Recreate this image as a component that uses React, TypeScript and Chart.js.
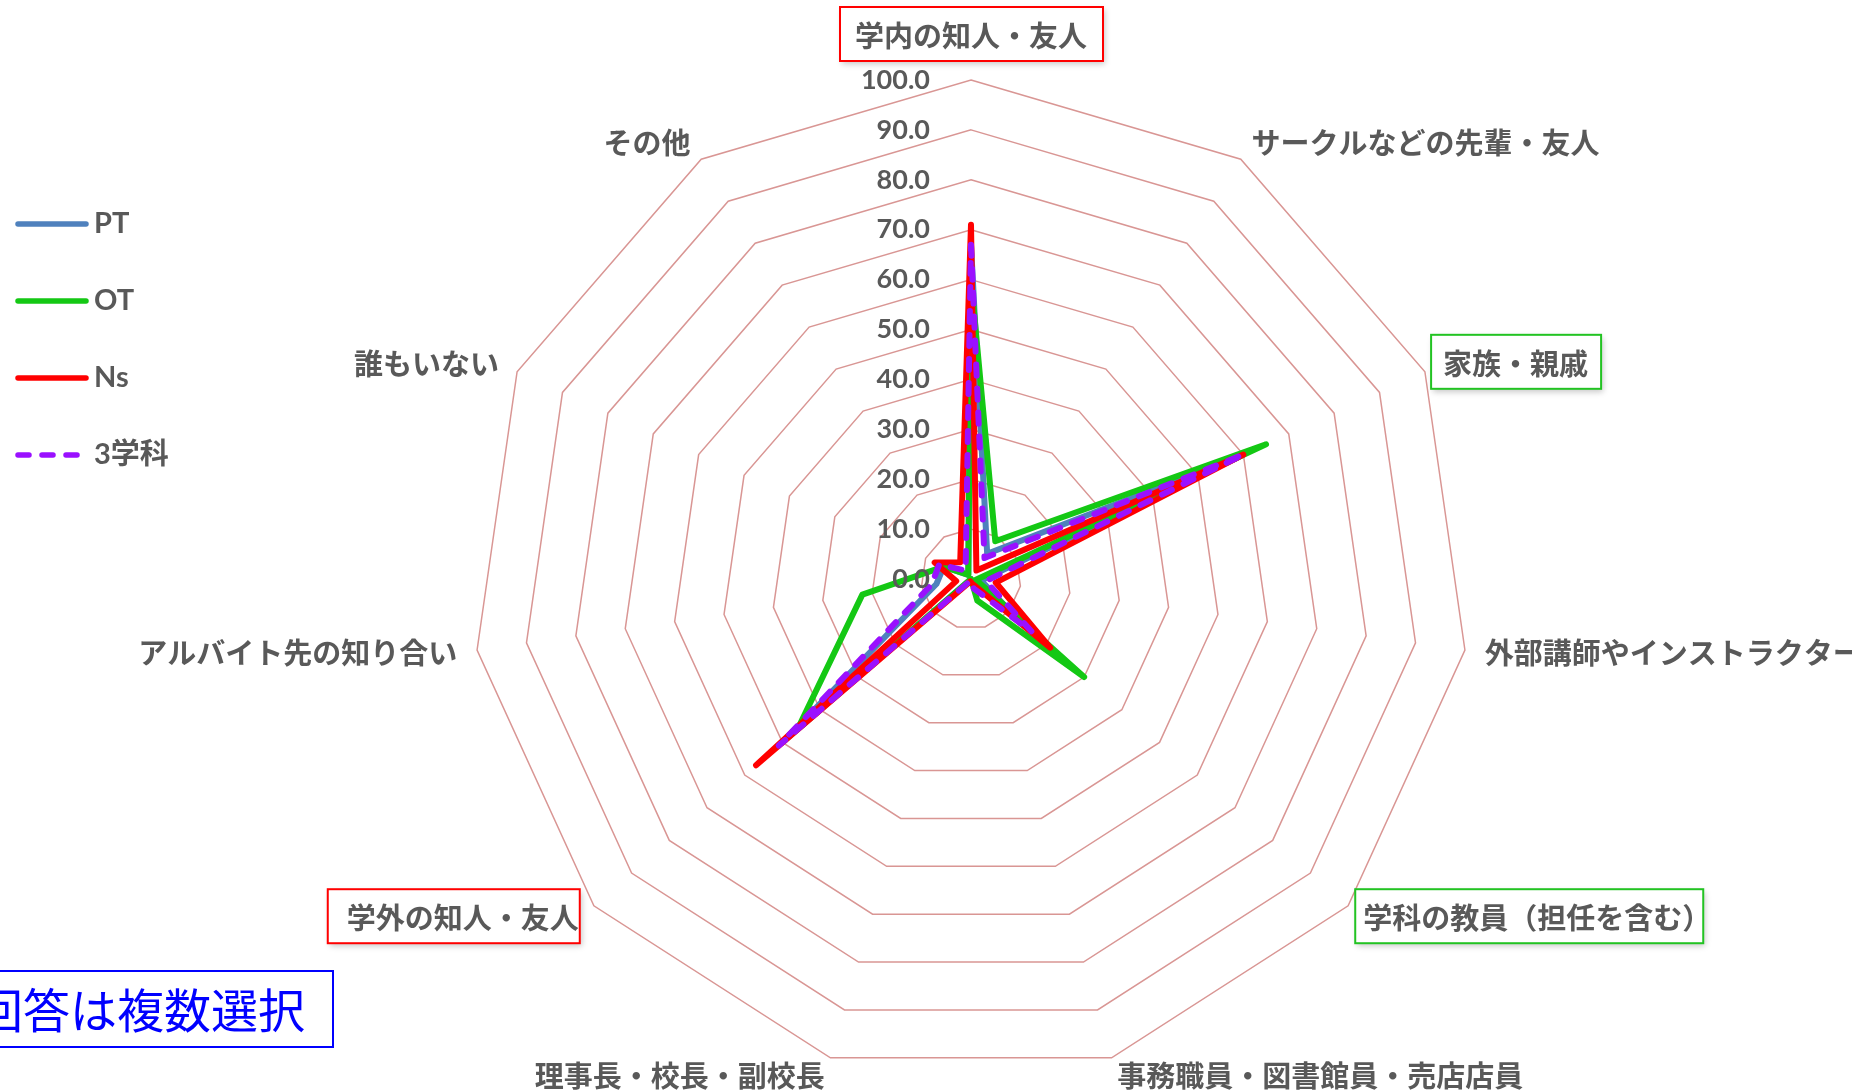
import React, { useEffect, useRef } from 'react';
import { Chart, registerables } from 'chart.js';

Chart.register(...registerables);

// ---- data ----
const CATEGORIES = [
  '学内の知人・友人',
  'サークルなどの先輩・友人',
  '家族・親戚',
  '外部講師やインストラクター',
  '学科の教員（担任を含む）',
  '事務職員・図書館員・売店店員',
  '理事長・校長・副校長',
  '学外の知人・友人',
  'アルバイト先の知り合い',
  '誰もいない',
  'その他',
];
const SERIES_NAMES = ['PT', 'OT', 'Ns', '3学科'];
const PT_VALUES = [67, 6, 59, 2, 13, 1, 0, 50, 7, 6, 1];
const OT_VALUES = [60, 9, 65, 1, 30, 4.5, 0, 46, 22, 6, 1];
const NS_VALUES = [71, 2, 60, 5, 21, 1, 0.5, 57, 3, 8, 4];
const ALL_VALUES = [67, 5, 60, 3, 16, 2, 0.3, 51, 8, 7, 2];
const AXIS_MIN = 0;
const AXIS_MAX = 100;
const AXIS_STEP = 10;
const NOTE_TEXT = '回答は複数選択';

// ---- styles ----
const COLORS = ['#4F81BD', '#14C814', '#FF0000', '#9A10FF'];
const TEXT_COLOR = '#595959';
const GRID_COLOR = '#D99694';
const JP_FONT = '"Noto Sans CJK JP", "Noto Sans", sans-serif';
const NUM_FONT = 'Lato, "Liberation Sans", sans-serif';
const BOXED: Record<number, { color: string; padL: number; padR: number }> = {
  0: { color: '#FF0000', padL: 15, padR: 16 },
  2: { color: '#22C322', padL: 12, padR: 13 },
  4: { color: '#22C322', padL: 8, padR: -8 },
  7: { color: '#FF0000', padL: 19, padR: 1 },
};

const overlayPlugin = {
  id: 'overlay',
  afterDatasetsDraw(chart: any) {
    const ctx: CanvasRenderingContext2D = chart.ctx;
    const r = chart.scales.r;
    ctx.save();

    // tick labels
    ctx.font = `bold 27px ${NUM_FONT}`;
    ctx.fillStyle = TEXT_COLOR;
    ctx.textAlign = 'right';
    ctx.textBaseline = 'middle';
    r.ticks.forEach((t: any) => {
      const d = r.getDistanceFromCenterForValue(t.value);
      ctx.fillText(Number(t.value).toFixed(1), r.xCenter - 41, r.yCenter - d);
    });

    // point labels
    const n = CATEGORIES.length;
    ctx.font = `bold 29px ${JP_FONT}`;
    CATEGORIES.forEach((label, i) => {
      const p = r.getPointPosition(i, r.drawingArea);
      const th = (2 * Math.PI * i) / n;
      const s = Math.sin(th);
      const c = Math.cos(th);
      let x: number;
      let y: number;
      let align: CanvasTextAlign;
      if (Math.abs(s) < 0.05) {
        align = 'center';
        x = p.x;
        y = p.y - 44;
      } else {
        align = s > 0 ? 'left' : 'right';
        x = p.x + 20 * s;
        y = p.y - 19 * c;
      }
      const w = ctx.measureText(label).width;
      const left = align === 'left' ? x : align === 'right' ? x - w : x - w / 2;
      const box = BOXED[i];
      if (box) {
        const bx = left - box.padL;
        const bw = w + box.padL + box.padR;
        const by = y - 29;
        const bh = 54;
        ctx.save();
        ctx.shadowColor = 'rgba(0,0,0,0.22)';
        ctx.shadowBlur = 6;
        ctx.shadowOffsetX = 2;
        ctx.shadowOffsetY = 3;
        ctx.fillStyle = '#FFFFFF';
        ctx.fillRect(bx, by, bw, bh);
        ctx.restore();
        ctx.fillStyle = TEXT_COLOR;
        ctx.textAlign = align;
        ctx.fillText(label, x, y);
        ctx.strokeStyle = box.color;
        ctx.lineWidth = 2;
        ctx.strokeRect(bx, by, bw, bh);
      } else {
        ctx.fillStyle = TEXT_COLOR;
        ctx.textAlign = align;
        ctx.fillText(label, x, y);
      }
    });

    // legend
    SERIES_NAMES.forEach((name, i) => {
      const y = 224 + i * 77;
      ctx.beginPath();
      ctx.strokeStyle = COLORS[i];
      ctx.lineWidth = 5.5;
      ctx.lineCap = 'round';
      if (i === 3) ctx.setLineDash([11, 13]);
      else ctx.setLineDash([]);
      ctx.moveTo(18, y);
      ctx.lineTo(i === 3 ? 82 : 86, y);
      ctx.stroke();
      ctx.setLineDash([]);
      ctx.fillStyle = TEXT_COLOR;
      ctx.textAlign = 'left';
      ctx.textBaseline = 'middle';
      ctx.font = `bold 29px Lato, ${JP_FONT}`;
      ctx.fillText(name, 94, y);
    });

    // note box
    ctx.fillStyle = '#FFFFFF';
    ctx.fillRect(-2, 971, 335, 76);
    ctx.strokeStyle = '#0000FF';
    ctx.lineWidth = 2;
    ctx.strokeRect(-2, 971, 335, 76);
    ctx.fillStyle = '#0000FF';
    ctx.font = `47px ${JP_FONT}`;
    ctx.textAlign = 'left';
    ctx.textBaseline = 'middle';
    ctx.fillText(NOTE_TEXT, -24, 1010);

    ctx.restore();
  },
};

export default function App() {
  const canvasRef = useRef<HTMLCanvasElement>(null);

  useEffect(() => {
    const canvas = canvasRef.current;
    if (!canvas) return;
    const seriesValues = [PT_VALUES, OT_VALUES, NS_VALUES, ALL_VALUES];
    const chart = new Chart(canvas, {
      type: 'radar',
      data: {
        labels: CATEGORIES,
        datasets: SERIES_NAMES.map((name, i) => ({
          label: name,
          data: seriesValues[i],
          borderColor: COLORS[i],
          backgroundColor: COLORS[i],
          borderWidth: 6,
          borderDash: i === 3 ? [11, 13] : [],
          borderCapStyle: 'round' as const,
          borderJoinStyle: 'round' as const,
          pointRadius: 0,
          fill: false,
          order: 3 - i,
        })),
      },
      options: {
        responsive: false,
        animation: false,
        devicePixelRatio: 1,
        events: [],
        layout: { padding: { left: 472, right: 382, top: 80, bottom: 13 } },
        plugins: {
          legend: { display: false },
          tooltip: { enabled: false },
          title: { display: false },
        },
        scales: {
          r: {
            min: AXIS_MIN,
            max: AXIS_MAX,
            ticks: { stepSize: AXIS_STEP, display: false },
            grid: { color: GRID_COLOR, lineWidth: 1.5 },
            angleLines: { display: false },
            pointLabels: { display: false },
          },
        },
      },
      plugins: [overlayPlugin],
    });
    return () => chart.destroy();
  }, []);

  return (
    <div style={{ position: 'fixed', left: 0, top: 0, width: 1852, height: 1091, background: '#FFFFFF' }}>
      <canvas ref={canvasRef} width={1852} height={1091} style={{ display: 'block' }} />
    </div>
  );
}
